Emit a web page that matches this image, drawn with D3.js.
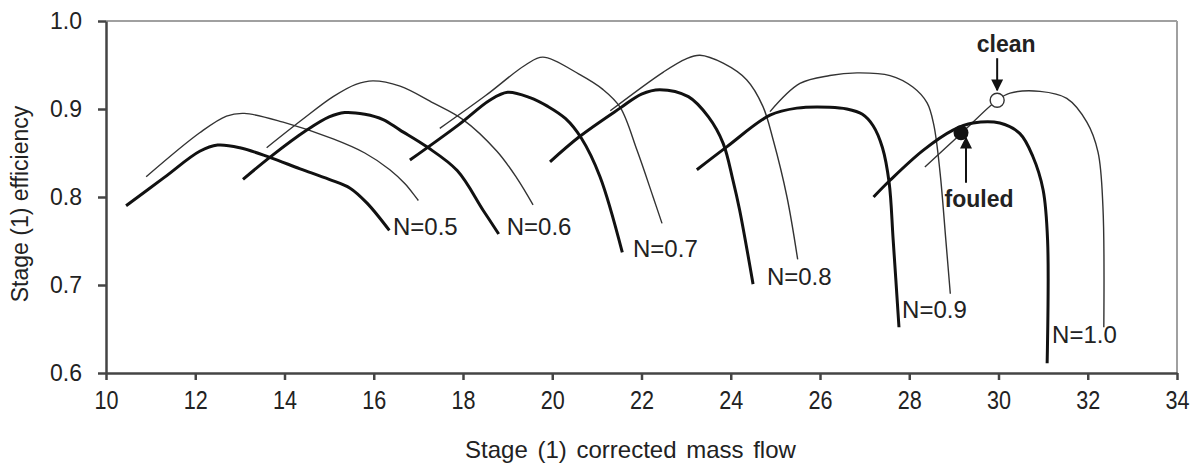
<!DOCTYPE HTML>
<html lang="en">
  <head>
    <meta http-equiv="content-type" content="text/html; charset=utf-8"/>
    <title>Stage (1) efficiency vs corrected mass flow</title>
    <script type="text/javascript" src="https://d3js.org/d3.v7.min.js"></script>
  </head>

  <!-- ============================================= -->
  <!-- CSS                                           -->
  <!-- ============================================= -->
  <style>
    body { margin: 0; background: #fff; }
    svg { font-family: "Liberation Sans", Arial, sans-serif; }
    .fouled { fill: none; stroke: #111; stroke-width: 3px; stroke-linejoin: round; }
    .clean  { fill: none; stroke: #333; stroke-width: 1.4px; stroke-linejoin: round; }
    .axis path, .axis line { stroke: #444; stroke-width: 2.5px; }
    .axis text { fill: #222; }
    .frame { stroke: #a0a0a0; stroke-width: 2px; }
    .speed { font-size: 24px; fill: #222; }
    .note { font-size: 23px; font-weight: bold; fill: #222; }
  </style>

  <body>
    <div id="chart"></div>
    <script>
      // ---------------------------------------------
      // data: [mass flow, efficiency]
      // ---------------------------------------------
      var speeds = ["N=0.5", "N=0.6", "N=0.7", "N=0.8", "N=0.9", "N=1.0"];

      // fouled compressor (thick lines)
      var fouled05 = [[10.45,0.790],[11.3,0.822],[12.1,0.852],[12.5,0.859],[13.0,0.856],[13.67,0.845],
                      [14.35,0.832],[15.0,0.820],[15.47,0.810],[15.85,0.793],[16.35,0.762]];
      var fouled06 = [[13.07,0.820],[13.67,0.845],[14.5,0.876],[15.0,0.891],[15.35,0.896],[15.8,0.894],
                      [16.21,0.888],[16.59,0.876],[17.19,0.857],[17.87,0.830],[18.45,0.785],[18.8,0.758]];
      var fouled07 = [[16.81,0.842],[17.9,0.882],[18.6,0.910],[19.0,0.919],[19.5,0.913],[19.9,0.903],
                      [20.3,0.889],[20.65,0.867],[21.07,0.823],[21.57,0.737]];
      var fouled08 = [[19.95,0.840],[20.62,0.869],[21.52,0.901],[22.0,0.917],[22.41,0.922],[23.05,0.914],
                      [23.5,0.891],[23.83,0.861],[24.05,0.819],[24.2,0.785],[24.5,0.701]];
      var fouled09 = [[23.24,0.831],[23.91,0.857],[24.88,0.893],[25.48,0.901],[26.22,0.902],[26.6,0.900],
                      [26.95,0.894],[27.19,0.881],[27.4,0.856],[27.55,0.816],[27.64,0.751],[27.77,0.652]];
      var fouled10 = [[27.2,0.800],[27.57,0.819],[28.31,0.853],[28.98,0.876],[29.43,0.884],[30.03,0.884],
                      [30.48,0.872],[30.77,0.846],[31.0,0.808],[31.1,0.751],[31.09,0.611]];

      // clean compressor (thin lines)
      var clean05 = [[10.9,0.823],[12.1,0.873],[12.7,0.892],[13.1,0.895],[13.97,0.885],[15.09,0.866],
                     [15.8,0.850],[16.36,0.831],[16.7,0.815],[17.0,0.796]];
      var clean06 = [[13.6,0.856],[14.4,0.888],[15.09,0.914],[15.6,0.928],[15.98,0.932],[16.59,0.926],
                     [17.33,0.907],[18.0,0.888],[18.76,0.852],[19.2,0.822],[19.57,0.791]];
      var clean07 = [[17.48,0.878],[18.5,0.915],[19.4,0.950],[19.79,0.959],[20.62,0.939],[21.14,0.922],
                     [21.52,0.902],[21.9,0.853],[22.26,0.800],[22.46,0.770]];
      var clean08 = [[21.3,0.898],[22.49,0.942],[23.0,0.957],[23.31,0.961],[23.83,0.952],[24.36,0.933],
                     [24.72,0.903],[24.95,0.865],[25.26,0.800],[25.5,0.729]];
      var clean09 = [[24.88,0.897],[25.55,0.929],[26.22,0.938],[26.83,0.941],[27.57,0.938],[28.08,0.925],
                     [28.4,0.907],[28.55,0.882],[28.69,0.828],[28.82,0.751],[28.92,0.690]];
      var clean10 = [[28.35,0.834],[29.16,0.872],[29.97,0.910],[30.26,0.918],[30.93,0.920],[31.53,0.912],
                     [31.98,0.885],[32.23,0.851],[32.34,0.789],[32.36,0.652]];

      // speed label anchors (left, baseline) in data units
      var labelX = [16.43, 18.98, 21.81, 24.81, 27.84, 31.2];
      var labelY = [0.757, 0.757, 0.732, 0.700, 0.662, 0.634];

      // operating points
      var cleanPoint = [29.97, 0.910];
      var fouledPoint = [29.16, 0.873];

      var xTicks = [10, 12, 14, 16, 18, 20, 22, 24, 26, 28, 30, 32, 34];
      var yTicks = [0.6, 0.7, 0.8, 0.9, 1.0];

      var fouledCurves = [fouled05, fouled06, fouled07, fouled08, fouled09, fouled10];
      var cleanCurves = [clean05, clean06, clean07, clean08, clean09, clean10];

      // ---------------------------------------------
      // layout
      // ---------------------------------------------
      var margin = { top: 21, right: 24, bottom: 101, left: 106 },
        width = 1201 - margin.left - margin.right,
        height = 474 - margin.top - margin.bottom;

      var x = d3.scaleLinear().domain([10, 34]).range([0, width]);
      var y = d3.scaleLinear().domain([0.6, 1.0]).range([height, 0]);

      var line = d3.line()
        .x(function(d) { return x(d[0]); })
        .y(function(d) { return y(d[1]); })
        .curve(d3.curveCatmullRom.alpha(0.5));

      var svg = d3.select("#chart")
        .append("svg")
          .attr("width", 1201)
          .attr("height", 474)
        .append("g")
          .attr("transform", "translate(" + margin.left + "," + margin.top + ")");

      // arrowhead
      svg.append("defs").append("marker")
          .attr("id", "head")
          .attr("viewBox", "0 0 10 10")
          .attr("refX", 9)
          .attr("refY", 5)
          .attr("markerUnits", "userSpaceOnUse")
          .attr("markerWidth", 12)
          .attr("markerHeight", 12)
          .attr("orient", "auto")
        .append("path")
          .attr("d", "M0,0L10,5L0,10Z")
          .attr("fill", "#111");

      // top and right frame
      svg.append("line").attr("class", "frame")
        .attr("x1", 0).attr("x2", width).attr("y1", 0).attr("y2", 0);
      svg.append("line").attr("class", "frame")
        .attr("x1", width).attr("x2", width).attr("y1", 0).attr("y2", height);

      // axes
      var xAxis = svg.append("g")
        .attr("class", "axis")
        .attr("transform", "translate(0," + height + ")")
        .call(d3.axisBottom(x).tickValues(xTicks).tickSize(7).tickSizeOuter(0).tickPadding(11));
      xAxis.selectAll("text")
        .style("font-size", "26px")
        .attr("transform", "scale(0.83,1)");

      var yAxis = svg.append("g")
        .attr("class", "axis")
        .call(d3.axisLeft(y).tickValues(yTicks).tickFormat(d3.format(".1f"))
          .tickSize(8).tickSizeOuter(0).tickPadding(16));
      yAxis.selectAll("text").style("font-size", "23px");
      svg.selectAll(".axis .domain").attr("stroke", "#444");

      // axis titles
      svg.append("text")
        .attr("x", width / 2 - 11)
        .attr("y", height + 85)
        .attr("text-anchor", "middle")
        .style("font-size", "24px")
        .style("word-spacing", "3px")
        .style("fill", "#222")
        .text("Stage (1) corrected mass flow");

      svg.append("text")
        .attr("transform", "translate(" + (28 - margin.left) + "," + (height / 2 + 7) + ") rotate(-90)")
        .attr("text-anchor", "middle")
        .style("font-size", "23px")
        .style("fill", "#222")
        .text("Stage (1) efficiency");

      // speed labels
      svg.selectAll(".speed")
        .data(speeds)
        .enter().append("text")
          .attr("class", "speed")
          .attr("x", function(d, i) { return x(labelX[i]); })
          .attr("y", function(d, i) { return y(labelY[i]); })
          .text(function(d) { return d; });

      // characteristic lines
      svg.selectAll(".clean")
        .data(cleanCurves)
        .enter().append("path")
          .attr("class", "clean")
          .attr("d", line);

      svg.selectAll(".fouled")
        .data(fouledCurves)
        .enter().append("path")
          .attr("class", "fouled")
          .attr("d", line);

      // operating points
      svg.append("circle")
        .attr("cx", x(cleanPoint[0]))
        .attr("cy", y(cleanPoint[1]))
        .attr("r", 7)
        .attr("fill", "#fff")
        .attr("stroke", "#333")
        .attr("stroke-width", 1.4);

      svg.append("circle")
        .attr("cx", x(fouledPoint[0]))
        .attr("cy", y(fouledPoint[1]))
        .attr("r", 7.5)
        .attr("fill", "#111");

      // annotations
      svg.append("line")
        .attr("x1", x(cleanPoint[0])).attr("x2", x(cleanPoint[0]))
        .attr("y1", y(cleanPoint[1]) - 42).attr("y2", y(cleanPoint[1]) - 10)
        .attr("stroke", "#111").attr("stroke-width", 2)
        .attr("marker-end", "url(#head)");
      svg.append("text")
        .attr("class", "note")
        .attr("x", x(cleanPoint[0]) + 9)
        .attr("y", y(cleanPoint[1]) - 48)
        .attr("text-anchor", "middle")
        .text("clean");

      svg.append("line")
        .attr("x1", x(fouledPoint[0]) + 5).attr("x2", x(fouledPoint[0]) + 5)
        .attr("y1", y(fouledPoint[1]) + 50).attr("y2", y(fouledPoint[1]) + 5)
        .attr("stroke", "#111").attr("stroke-width", 2)
        .attr("marker-end", "url(#head)");
      svg.append("text")
        .attr("class", "note")
        .attr("x", x(fouledPoint[0]) + 18)
        .attr("y", y(fouledPoint[1]) + 74)
        .attr("text-anchor", "middle")
        .text("fouled");
    </script>
  </body>
</html>
